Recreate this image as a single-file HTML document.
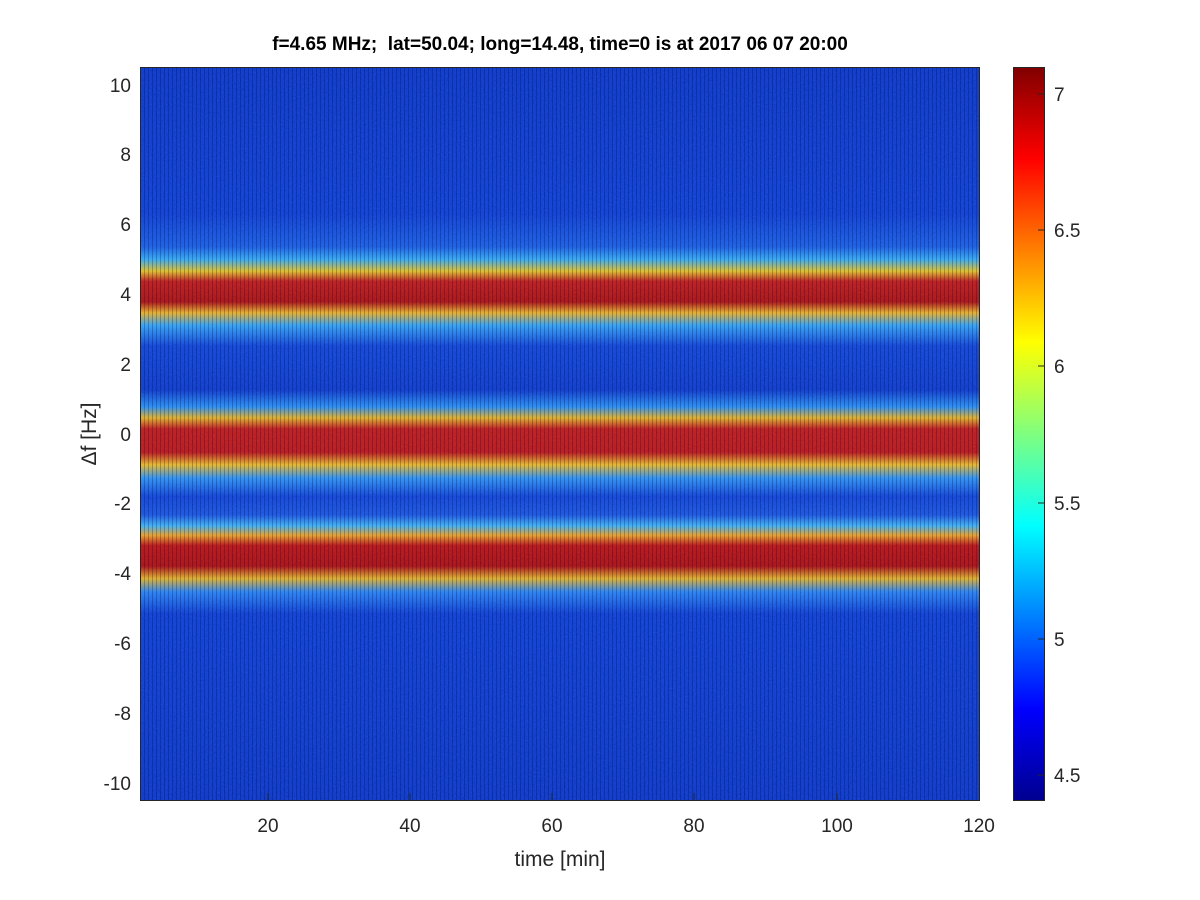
<!DOCTYPE html>
<html><head><meta charset="utf-8"><style>
html,body{margin:0;padding:0;background:#fff;}
svg{display:block;font-family:"Liberation Sans",sans-serif;}
</style></head><body>
<svg width="1200" height="900" viewBox="0 0 1200 900" xmlns="http://www.w3.org/2000/svg">
<defs>
<linearGradient id="plot" x1="0" y1="67" x2="0" y2="801" gradientUnits="userSpaceOnUse">
<stop offset="0" stop-color="#0a32c4"/>
<stop offset="0.20" stop-color="#0d3ad0"/>
<stop offset="0.245" stop-color="#1a5ae0"/>
<stop offset="0.262" stop-color="#35a8f0"/>
<stop offset="0.278" stop-color="#e8c020"/>
<stop offset="0.292" stop-color="#c41410"/>
<stop offset="0.32" stop-color="#b00a08"/>
<stop offset="0.335" stop-color="#f0b020"/>
<stop offset="0.352" stop-color="#35a0f0"/>
<stop offset="0.38" stop-color="#1040d4"/>
<stop offset="0.44" stop-color="#0c36c8"/>
<stop offset="0.463" stop-color="#2a8cf0"/>
<stop offset="0.478" stop-color="#e8b020"/>
<stop offset="0.493" stop-color="#c41410"/>
<stop offset="0.525" stop-color="#c01010"/>
<stop offset="0.542" stop-color="#f0b820"/>
<stop offset="0.56" stop-color="#3090f0"/>
<stop offset="0.585" stop-color="#1040d4"/>
<stop offset="0.61" stop-color="#1a50dc"/>
<stop offset="0.625" stop-color="#40b0f0"/>
<stop offset="0.638" stop-color="#f0a020"/>
<stop offset="0.652" stop-color="#c00c0a"/>
<stop offset="0.68" stop-color="#b00808"/>
<stop offset="0.697" stop-color="#e8b020"/>
<stop offset="0.715" stop-color="#2a80f0"/>
<stop offset="0.745" stop-color="#0d3ad0"/>
<stop offset="1" stop-color="#0a32c4"/>
</linearGradient>
<linearGradient id="jet" x1="0" y1="801" x2="0" y2="67" gradientUnits="userSpaceOnUse">
<stop offset="0" stop-color="#00008f"/>
<stop offset="0.125" stop-color="#0000ff"/>
<stop offset="0.375" stop-color="#00ffff"/>
<stop offset="0.625" stop-color="#ffff00"/>
<stop offset="0.875" stop-color="#ff0000"/>
<stop offset="1" stop-color="#800000"/>
</linearGradient>
<pattern id="stripes" x="140" y="0" width="4" height="10" patternUnits="userSpaceOnUse">
<rect x="0" y="0" width="1" height="10" fill="#000040" opacity="0.25"/>
</pattern>
<filter id="noise" x="0" y="0" width="100%" height="100%">
<feTurbulence type="fractalNoise" baseFrequency="0.9 0.5" numOctaves="1" seed="3"/>
<feColorMatrix values="0 0 0 0 0.2  0 0 0 0 0.6  0 0 0 0 1  0 0 0 0.35 0"/>
</filter>
</defs>
<rect x="140" y="67" width="840" height="734" fill="url(#plot)"/>
<rect x="140" y="67" width="840" height="734" filter="url(#noise)" opacity="0.5"/>
<rect x="140" y="67" width="840" height="734" fill="url(#stripes)"/>
<rect x="140.5" y="67.5" width="839" height="733" fill="none" stroke="#262626" stroke-width="1"/>
<g stroke="#262626" stroke-width="1">
<line x1="268" y1="801" x2="268" y2="793"/><line x1="410" y1="801" x2="410" y2="793"/><line x1="552" y1="801" x2="552" y2="793"/><line x1="694" y1="801" x2="694" y2="793"/><line x1="837" y1="801" x2="837" y2="793"/>
</g>
<g font-size="19" fill="#262626" text-anchor="middle">
<text x="268" y="832">20</text><text x="410" y="832">40</text><text x="552" y="832">60</text><text x="694" y="832">80</text><text x="837" y="832">100</text><text x="979" y="832">120</text>
</g>
<g font-size="19" fill="#262626" text-anchor="end">
<text x="131" y="92">10</text><text x="131" y="161">8</text><text x="131" y="231">6</text><text x="131" y="301">4</text><text x="131" y="371">2</text><text x="131" y="441">0</text><text x="131" y="510">-2</text><text x="131" y="580">-4</text><text x="131" y="650">-6</text><text x="131" y="720">-8</text><text x="131" y="790">-10</text>
</g>
<text x="560" y="866" font-size="21" fill="#262626" text-anchor="middle">time [min]</text>
<text transform="translate(96,434) rotate(-90)" font-size="21" fill="#262626" text-anchor="middle">Δf [Hz]</text>
<text x="560" y="50" font-size="19" font-weight="bold" fill="#000" text-anchor="middle">f=4.65 MHz;&#160; lat=50.04; long=14.48, time=0 is at 2017 06 07 20:00</text>
<rect x="1013" y="67" width="32" height="734" fill="url(#jet)"/>
<rect x="1013.5" y="67.5" width="31" height="733" fill="none" stroke="#262626"/>
<g stroke="#262626"><line x1="1038" y1="94" x2="1045" y2="94"/><line x1="1038" y1="230" x2="1045" y2="230"/><line x1="1038" y1="366" x2="1045" y2="366"/><line x1="1038" y1="503" x2="1045" y2="503"/><line x1="1038" y1="639" x2="1045" y2="639"/><line x1="1038" y1="775" x2="1045" y2="775"/></g>
<g font-size="19" fill="#262626">
<text x="1054" y="101">7</text><text x="1054" y="237">6.5</text><text x="1054" y="373">6</text><text x="1054" y="510">5.5</text><text x="1054" y="646">5</text><text x="1054" y="782">4.5</text>
</g>
</svg>
</body></html>
